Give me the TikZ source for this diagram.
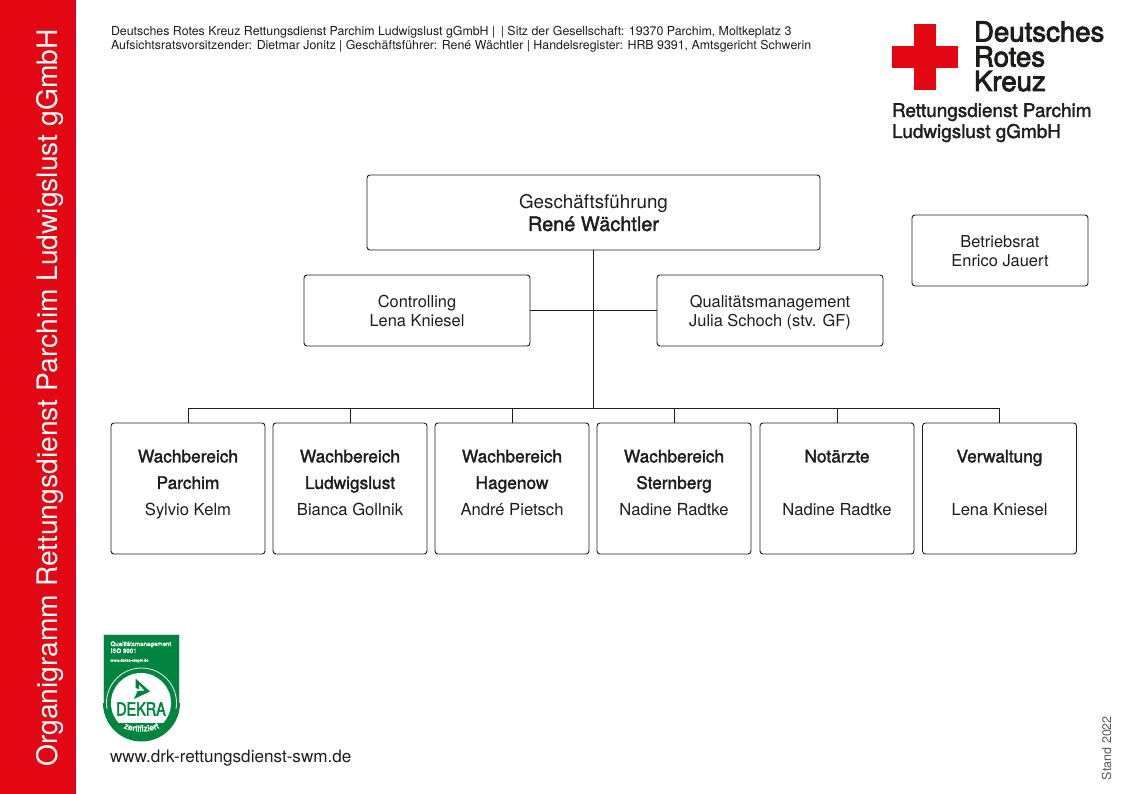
\documentclass[tikz,border=0pt]{standalone}
\usepackage{fontspec}
\usetikzlibrary{decorations.text}
\setmainfont{TeX Gyre Heros}
\newfontfamily\medf[FakeBold=1.8]{TeX Gyre Heros}
\newfontfamily\semif[FakeBold=3]{TeX Gyre Heros}
\definecolor{drkred}{HTML}{E30613}
\definecolor{dekragreen}{HTML}{00853F}
\definecolor{inkc}{HTML}{1D1D1B}
\tikzset{
 x=1pt,y=-1pt,
 every node/.style={text=inkc,inner sep=0pt,outer sep=0pt},
 orgbox/.style={draw=inkc,line width=0.9pt,rounded corners=3pt,fill=white,align=center,anchor=north west},
 lowbox/.style={draw=inkc,line width=0.9pt,rounded corners=3pt,fill=white,anchor=north west},
 conn/.style={draw=inkc,line width=0.7pt},
 headtxt/.style={anchor=base west,font=\fontsize{12.38}{14}\selectfont},
 logotxt/.style={anchor=base west,font=\fontsize{27.6}{25}\selectfont\semif},
 subtxt/.style={anchor=base west,font=\fontsize{18.9}{21}\selectfont\medf},
 midfont/.style={font=\fontsize{16.4}{18.8}\selectfont},
}
\newcommand{\lowtext}[3]{\parbox[c][131pt][t]{154pt}{\centering\fontsize{16.6}{26.5}\selectfont\vspace{26.8pt}{\fontsize{17.3}{26.5}\selectfont\medf #1}\par{\fontsize{17.3}{26.5}\selectfont\medf #2\strut}\par #3\par}}
\newcommand{\tallA}{\rule{0pt}{19.4pt}}
\begin{document}
\begin{tikzpicture}
\useasboundingbox (0,0) rectangle (1123,794);
\fill[white] (0,0) rectangle (1123,794);
\fill[drkred] (0,0) rectangle (76,794);
\node[rotate=90,text=white,font=\fontsize{28.2}{30}\selectfont,anchor=base] (side) at (57,398) {Organigramm Rettungsdienst Parchim Ludwigslust gGmbH};
% header
\node[headtxt] (h1) at (111,36) {Deutsches Rotes Kreuz Rettungsdienst Parchim Ludwigslust gGmbH |\ \,| Sitz der Gesellschaft: 19370 Parchim, Moltkeplatz 3};
\node[headtxt] (h2) at (111,50) {Aufsichtsratsvorsitzender: Dietmar Jonitz | Geschäftsführer: René Wächtler | Handelsregister: HRB 9391, Amtsgericht Schwerin};
% logo
\fill[drkred] (914,24) rectangle (936,90);
\fill[drkred] (892,46) rectangle (958,68);
\node[logotxt] (l1) at (974,41.5) {Deutsches};
\node[logotxt] (l2) at (974,66.5) {Rotes};
\node[logotxt] (l3) at (974,91) {Kreuz};
\node[subtxt] (l4) at (892,117) {Rettungsdienst Parchim};
\node[subtxt] (l5) at (892,138) {Ludwigslust gGmbH};
% boxes
\node[orgbox,minimum width=453pt,minimum height=75pt,font=\fontsize{18.8}{22}\selectfont] (gf) at (367,175) {\rule{0pt}{21.6pt}Geschäftsführung\\{\fontsize{19.9}{22}\selectfont\medf\strut René Wächtler}};
\node[orgbox,minimum width=226pt,minimum height=71pt,midfont] (ctl) at (304,275) {\tallA Controlling\\\strut Lena Kniesel};
\node[orgbox,minimum width=226pt,minimum height=71pt,midfont] (qm) at (657,275) {\tallA Qualitätsmanagement\\\strut Julia Schoch (stv. GF)};
\node[orgbox,minimum width=176pt,minimum height=71pt,midfont] (br) at (912,215) {\tallA Betriebsrat\\\strut Enrico Jauert};
\node[lowbox] (w1) at (111,423) {\lowtext{Wachbereich}{Parchim}{Sylvio Kelm}};
\node[lowbox] (w2) at (273,423) {\lowtext{Wachbereich}{Ludwigslust}{Bianca Gollnik}};
\node[lowbox] (w3) at (435,423) {\lowtext{Wachbereich}{Hagenow}{André Pietsch}};
\node[lowbox] (w4) at (597,423) {\lowtext{Wachbereich}{Sternberg}{Nadine Radtke}};
\node[lowbox] (w5) at (760,423) {\lowtext{Notärzte}{}{Nadine Radtke}};
\node[lowbox] (w6) at (922.5,423) {\lowtext{Verwaltung}{}{Lena Kniesel}};
% connectors
\coordinate (bus) at (593,408);
\draw[conn] (gf.south -| bus) -- (bus);
\draw[conn] (ctl.east) -- (qm.west);
\draw[conn] (w1.north) |- (w6.north |- bus) -- (w6.north);
\foreach \n in {w2,w3,w4,w5}{\draw[conn] (\n.north) -- (\n.north |- bus);}
% DEKRA seal
\fill[dekragreen] (103,634) rectangle (180,703);
\fill[dekragreen] (141.5,703) circle[radius=38.5pt];
\draw[white!70!gray,line width=0.7pt] (103.4,703) -- (103.4,634.4) -- (179.6,634.4) -- (179.6,703);
\begin{scope}
\clip (100,630) rectangle (185,708);
\draw[white!75!gray,line width=0.9pt] (141.5,703) circle[radius=35pt];
\end{scope}
\begin{scope}
\clip (100,660) rectangle (185,722);
\fill[white] (141,703) circle[radius=30pt];
\end{scope}
\fill[dekragreen] (135.5,678.5) -- (150,691.5) -- (134,699) -- (137.5,691) -- (144.5,690.5) -- (139,684.5) -- (139,689) -- (135.5,688) -- cycle;
\node[text=dekragreen,font=\fontsize{18}{18}\selectfont\semif,xscale=.8] (dk) at (141,709) {DEKRA};
\node[text=white,font=\fontsize{6.2}{6}\selectfont\medf,anchor=base west] (d1) at (110.5,646) {Qualitätsmanagement};
\node[text=white,font=\fontsize{6.2}{6}\selectfont\medf,anchor=base west] (d2) at (110.5,653) {ISO 9001};
\node[text=white,font=\fontsize{4.1}{5}\selectfont\medf,anchor=base west] (d3) at (110.5,661.7) {www.dekra-siegel.de};
\path[decorate,decoration={text along path,text align=center,text color=white,text={|\fontsize{8.6}{9}\selectfont\medf|zertifiziert}}] (119,725.5) .. controls (130,733.5) and (153,733.5) .. (164,725.5);
% footer
\node[anchor=base west,font=\fontsize{17.1}{18}\selectfont] (web) at (110,762) {www.drk-rettungsdienst-swm.de};
\node[rotate=90,anchor=base west,font=\fontsize{12.5}{13}\selectfont,text=black!65] (st) at (1111,780) {Stand 2022};
\end{tikzpicture}
\end{document}
